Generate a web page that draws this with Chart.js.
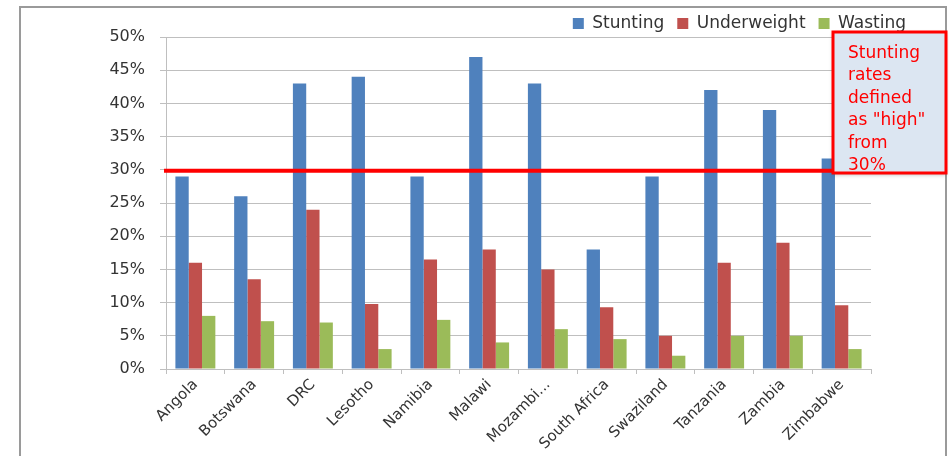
<!DOCTYPE html>
<html>
<head>
<meta charset="utf-8">
<script src="https://cdn.jsdelivr.net/npm/chart.js@4"></script>
<style>
  html, body { margin: 0; padding: 0; background: #fff; }
  #wrap { width: 949px; height: 456px; }
</style>
</head>
<body>
<div id="wrap"><canvas id="nutritionChart" width="949" height="456"></canvas></div>
<script>
const countries = ["Angola", "Botswana", "DRC", "Lesotho", "Namibia", "Malawi",
  "Mozambi...", "South Africa", "Swaziland", "Tanzania", "Zambia", "Zimbabwe"];
const stunting = [29, 26, 43, 44, 29, 47, 43, 18, 29, 42, 39, 31.7];
const underweight = [16, 13.5, 24, 9.8, 16.5, 18, 15, 9.3, 5, 16, 19, 9.6];
const wasting = [8, 7.2, 7, 3, 7.4, 4, 6, 4.5, 2, 5, 5, 3];
const highThreshold = 30;
const noteLines = ["Stunting", "rates", "defined", "as \"high\"", "from", "30%"];

const FONT = "'DejaVu Sans', sans-serif";
const GRID = "#bfbfbf";

// cadre gris autour du graphique
const framePlugin = {
  id: "frame",
  beforeDraw(chart) {
    const ctx = chart.ctx;
    ctx.save();
    ctx.strokeStyle = "#9a9a9a";
    ctx.lineWidth = 2;
    ctx.beginPath();
    ctx.moveTo(20, 460);
    ctx.lineTo(20, 7);
    ctx.lineTo(946, 7);
    ctx.lineTo(946, 460);
    ctx.stroke();
    ctx.restore();
  }
};

// hauteur fixe de la légende
const legendHeight = {
  id: "legendHeight",
  beforeInit(chart) {
    const fit = chart.legend.fit;
    chart.legend.fit = function () {
      fit.bind(chart.legend)();
      this.height = 35;
    };
  }
};

// ligne rouge à 30% + encadré
const thresholdPlugin = {
  id: "threshold",
  afterDatasetsDraw(chart) {
    const ctx = chart.ctx;
    const y = chart.scales.y.getPixelForValue(highThreshold) + 1;
    const boxX = 833, boxY = 32, boxW = 113, boxH = 141;
    ctx.save();
    ctx.strokeStyle = "#ff0000";
    ctx.lineWidth = 4;
    ctx.beginPath();
    ctx.moveTo(chart.chartArea.left - 2, y);
    ctx.lineTo(boxX, y);
    ctx.stroke();

    ctx.shadowColor = "rgba(0,0,0,0.25)";
    ctx.shadowBlur = 4;
    ctx.shadowOffsetY = 2;
    ctx.fillStyle = "#dce6f2";
    ctx.fillRect(boxX, boxY, boxW, boxH);
    ctx.shadowColor = "transparent";

    ctx.fillStyle = "#ff0000";
    ctx.font = "17px " + FONT;
    ctx.textBaseline = "alphabetic";
    noteLines.forEach((t, i) => ctx.fillText(t, 848, 58 + i * 22.4));

    ctx.lineWidth = 3;
    ctx.strokeRect(boxX, boxY, boxW, boxH);
    ctx.restore();
  }
};

const ctx = document.getElementById("nutritionChart").getContext("2d");
new Chart(ctx, {
  type: "bar",
  data: {
    labels: countries,
    datasets: [
      { label: "Stunting", data: stunting, backgroundColor: "#4f81bd" },
      { label: "Underweight", data: underweight, backgroundColor: "#c0504d" },
      { label: "Wasting", data: wasting, backgroundColor: "#9bbb59" }
    ]
  },
  options: {
    responsive: false,
    animation: false,
    events: [],
    layout: { padding: { left: 0, right: 30, top: 2, bottom: 0 } },
    datasets: { bar: { categoryPercentage: 0.68, barPercentage: 1 } },
    plugins: {
      tooltip: { enabled: false },
      legend: {
        position: "top",
        align: "end",
        labels: {
          boxWidth: 11,
          boxHeight: 11,
          padding: 13,
          color: "#333",
          font: { family: FONT, size: 17 }
        }
      }
    },
    scales: {
      x: {
        grid: { display: true, drawOnChartArea: false, offset: true, tickLength: 5, color: GRID },
        border: { color: GRID },
        ticks: {
          minRotation: 45,
          maxRotation: 45,
          padding: 2,
          color: "#333",
          font: { family: FONT, size: 15 }
        },
        afterFit(scale) { scale.height = 87; }
      },
      y: {
        min: 0,
        max: 50,
        grid: { color: GRID, tickLength: 6 },
        border: { color: GRID },
        ticks: {
          stepSize: 5,
          padding: 15,
          color: "#333",
          font: { family: FONT, size: 16 },
          callback: (v) => v + "%"
        },
        afterFit(scale) { scale.width = 166; }
      },
      yRight: {
        position: "right",
        display: true,
        grid: { display: false },
        border: { display: false },
        ticks: { display: false },
        afterFit(scale) { scale.width = 48; }
      }
    }
  },
  plugins: [framePlugin, legendHeight, thresholdPlugin]
});
</script>
</body>
</html>
